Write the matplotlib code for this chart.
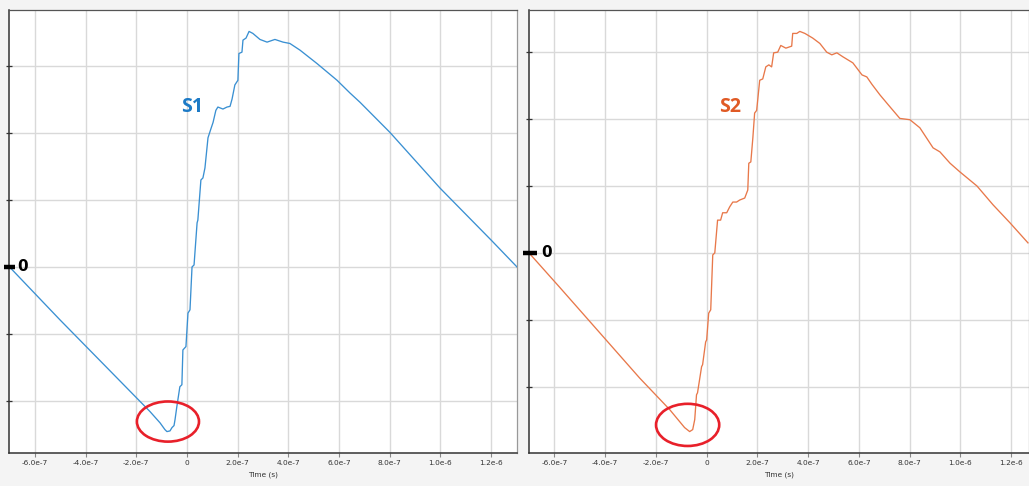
import matplotlib
matplotlib.use("Agg")
import matplotlib.pyplot as plt
import matplotlib.transforms as mtransforms
from matplotlib.patches import Ellipse
import numpy as np

# time in ns, amplitude in grid units (one grid division = 1)
s1_time_ns = [-700, -501, -304, -146, -106, -87, -79, -67, -59, -51, -47, -40, -28, -20,
              -16, -4, 4, 12, 20, 28, 40, 43, 55, 63, 71, 83, 95, 103, 114, 122, 142, 158,
              170, 178, 189, 201, 205, 217, 221, 233, 245, 260, 288, 316, 347, 379, 406,
              446, 513, 592, 643, 683, 801, 998, 1203, 1302]
s1_value = [0.0, -0.79, -1.55, -2.16, -2.33, -2.43, -2.46, -2.45, -2.40, -2.37, -2.28,
            -2.09, -1.79, -1.76, -1.24, -1.19, -0.69, -0.64, 0.0, 0.03, 0.66, 0.70, 1.30,
            1.33, 1.48, 1.93, 2.07, 2.16, 2.34, 2.39, 2.36, 2.39, 2.40, 2.51, 2.72, 2.79,
            3.19, 3.21, 3.39, 3.42, 3.52, 3.49, 3.40, 3.36, 3.40, 3.36, 3.34, 3.24, 3.04,
            2.79, 2.60, 2.46, 2.01, 1.18, 0.39, 0.0]

s2_time_ns = [-700, -580, -422, -264, -146, -87, -67, -55, -47, -40, -36, -20, -16, -4, 0,
              8, 16, 24, 32, 43, 55, 63, 79, 91, 103, 118, 130, 150, 162, 166, 174, 182,
              189, 197, 209, 221, 233, 245, 256, 264, 280, 292, 312, 335, 339, 355, 367,
              387, 418, 446, 473, 493, 513, 537, 576, 612, 631, 651, 683, 714, 761, 801,
              840, 892, 919, 959, 998, 1065, 1128, 1195, 1266]
s2_value = [0.0, -0.51, -1.19, -1.87, -2.34, -2.61, -2.67, -2.64, -2.49, -2.12, -2.09,
            -1.70, -1.67, -1.33, -1.30, -0.90, -0.85, -0.03, 0.0, 0.49, 0.49, 0.60, 0.60,
            0.69, 0.76, 0.76, 0.79, 0.82, 0.94, 1.34, 1.36, 1.72, 2.09, 2.13, 2.58, 2.60,
            2.78, 2.81, 2.78, 2.99, 3.00, 3.10, 3.06, 3.09, 3.28, 3.28, 3.31, 3.28, 3.21,
            3.13, 3.00, 2.96, 2.99, 2.93, 2.84, 2.66, 2.63, 2.52, 2.36, 2.22, 2.01, 1.99,
            1.87, 1.57, 1.51, 1.34, 1.21, 1.00, 0.72, 0.45, 0.15]

xtick_values = [-6e-7, -4e-7, -2e-7, 0, 2e-7, 4e-7, 6e-7, 8e-7, 1e-6, 1.2e-6]
xtick_labels = ["-6.0e-7", "-4.0e-7", "-2.0e-7", "0", "2.0e-7", "4.0e-7",
                "6.0e-7", "8.0e-7", "1.0e-6", "1.2e-6"]
ygrid_values = [-2, -1, 0, 1, 2, 3]

W, H = 1029, 486
fig = plt.figure(figsize=(W / 100, H / 100), dpi=100, facecolor="#f4f4f4")


def make_panel(left_px, right_px, time_ns, values, color, label, label_color,
               label_pos, ylim, xlim, ellipse, bar_span, zero_x):
    ax = fig.add_axes([left_px / W, (H - 453) / H, (right_px - left_px) / W, (453 - 10) / H])
    ax.set_facecolor("white")
    t = np.array(time_ns) * 1e-9
    ax.plot(t, values, color=color, lw=0.95, zorder=3)

    ax.set_xlim(*xlim)
    ax.set_ylim(*ylim)
    ax.set_xticks(xtick_values)
    ax.set_xticklabels(xtick_labels, fontsize=5.3, color="#333333")
    ax.set_yticks(ygrid_values)
    ax.set_yticklabels([])
    ax.grid(True, color="#d9d9d9", lw=1.0, zorder=0)
    ax.tick_params(axis="x", direction="out", length=3, width=0.8, color="#888888", pad=2)
    ax.tick_params(axis="y", direction="inout", length=4, width=0.9, color="#333333")
    ax.set_xlabel("Time (s)", fontsize=5.3, color="#333333", labelpad=4)

    for side in ("left", "bottom"):
        ax.spines[side].set_color("#333333")
        ax.spines[side].set_linewidth(1.1)
    ax.spines["top"].set_color("#555555")
    ax.spines["top"].set_linewidth(0.9)
    ax.spines["right"].set_color("#999999")
    ax.spines["right"].set_linewidth(0.9)

    # thick zero marker with label
    trans = mtransforms.blended_transform_factory(ax.transAxes, ax.transData)
    ax.plot(bar_span, [0, 0], color="black", lw=3.2, transform=trans,
            clip_on=False, solid_capstyle="butt", zorder=5)
    ax.text(zero_x, 0, "0", transform=trans, ha="left", va="center",
            fontsize=11, fontweight="bold", color="black", zorder=5)

    ax.text(label_pos[0], label_pos[1], label, ha="center", va="center",
            fontsize=14, fontweight="bold", color=label_color,
            family=["Open Sans", "DejaVu Sans"])

    cx, cy, ew, eh = ellipse
    ax.add_patch(Ellipse((cx, cy), ew, eh, fill=False, edgecolor="#e8202a",
                         lw=1.9, zorder=6))
    return ax


make_panel(9, 517, s1_time_ns, s1_value, "#3a90d2", "S1", "#1c7ac6",
           (2.0e-8, 2.39), (-2.78, 3.84), (-7.02e-7, 1.302e-6),
           (-7.5e-8, -2.31, 2.45e-7, 0.60), [-0.010, 0.012], 0.016)

make_panel(529, 1029, s2_time_ns, s2_value, "#e8784a", "S2", "#e05a25",
           (9.1e-8, 2.18), (-2.99, 3.63), (-7.0e-7, 1.27e-6),
           (-7.5e-8, -2.57, 2.49e-7, 0.63), [-0.012, 0.016], 0.024)

fig.savefig("out.png", dpi=100, facecolor=fig.get_facecolor())
